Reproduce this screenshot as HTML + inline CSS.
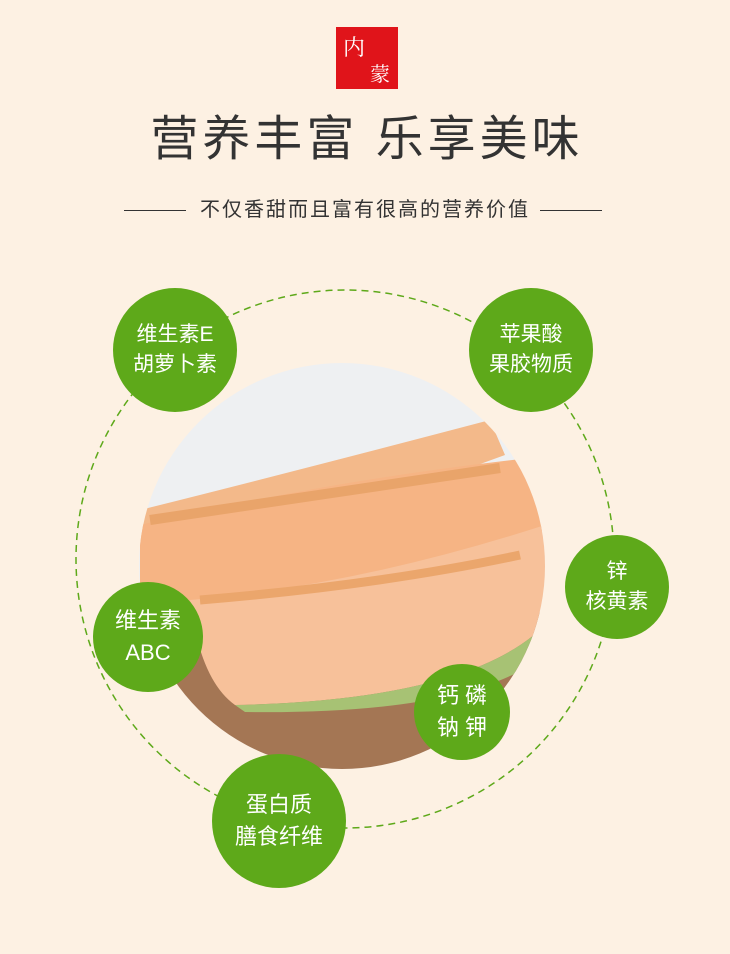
<!DOCTYPE html>
<html><head><meta charset="utf-8"><style>
body{margin:0;width:730px;height:954px;background:#fdf1e3;position:relative;overflow:hidden;font-family:"Liberation Sans","Noto Sans CJK SC",sans-serif}
.t{position:absolute;left:0;width:730px;text-align:center;color:#333}
.g{position:absolute;border-radius:50%;background:#5ea91a;color:#fff;display:flex;align-items:center;justify-content:center;text-align:center;font-size:21px;line-height:30px}
</style></head><body>
<div style="position:absolute;left:336px;top:27px;width:62px;height:62px;background:#e0141a"></div>
<div style="position:absolute;left:343px;top:31px;color:#fff;font-size:22px;font-family:'Noto Serif CJK SC',serif">内</div>
<div style="position:absolute;left:370px;top:58px;color:#fff;font-size:20px;font-family:'Noto Serif CJK SC',serif">蒙</div>
<div class="t" style="top:109px;font-size:48px;line-height:62px;letter-spacing:4px;padding-left:4px;box-sizing:border-box">营养丰富 乐享美味</div>
<div class="t" style="top:197px;font-size:20px;line-height:26px;letter-spacing:2px">不仅香甜而且富有很高的营养价值</div>
<div style="position:absolute;left:124px;top:210px;width:62px;height:1px;background:#333"></div>
<div style="position:absolute;left:540px;top:210px;width:62px;height:1px;background:#333"></div>
<svg width="730" height="954" style="position:absolute;left:0;top:0">
<defs><clipPath id="c"><circle cx="342" cy="566" r="203"/></clipPath></defs>
<circle cx="345" cy="559" r="269" fill="none" stroke="#5ea91a" stroke-width="1.5" stroke-dasharray="7 5"/>
<g clip-path="url(#c)">
<rect x="130" y="360" width="430" height="420" fill="#eef0f2"/>
<path d="M130 650 L560 610 L560 780 L130 780Z" fill="#a47654"/>
<path d="M140 510 Q300 470 490 420 L505 455 Q330 520 140 560Z" fill="#f3b98a"/>
<path d="M140 525 Q330 480 530 458 L545 530 Q350 600 140 610Z" fill="#f6b484"/>
<path d="M190 600 Q360 585 545 525 L545 625 Q470 700 235 705 Q200 680 190 600Z" fill="#f7c19a"/>
<path d="M235 705 Q470 700 545 625 L545 655 Q470 715 245 712Z" fill="#a7c274"/>
<path d="M150 520 Q350 490 500 468" stroke="#e9a46a" stroke-width="10" fill="none"/>
<path d="M200 600 Q380 585 520 555" stroke="#eba66c" stroke-width="9" fill="none"/>
</g>
</svg>
<div class="g" style="left:113px;top:288px;width:124px;height:124px">维生素E<br>胡萝卜素</div>
<div class="g" style="left:469px;top:288px;width:124px;height:124px">苹果酸<br>果胶物质</div>
<div class="g" style="left:565px;top:535px;width:104px;height:104px">锌<br>核黄素</div>
<div class="g" style="left:93px;top:582px;width:110px;height:110px;font-size:22px;line-height:32px">维生素<br>ABC</div>
<div class="g" style="left:414px;top:664px;width:96px;height:96px;font-size:22px;line-height:32px">钙 磷<br>钠 钾</div>
<div class="g" style="left:212px;top:754px;width:134px;height:134px;font-size:22px;line-height:32px">蛋白质<br>膳食纤维</div>
</body></html>
